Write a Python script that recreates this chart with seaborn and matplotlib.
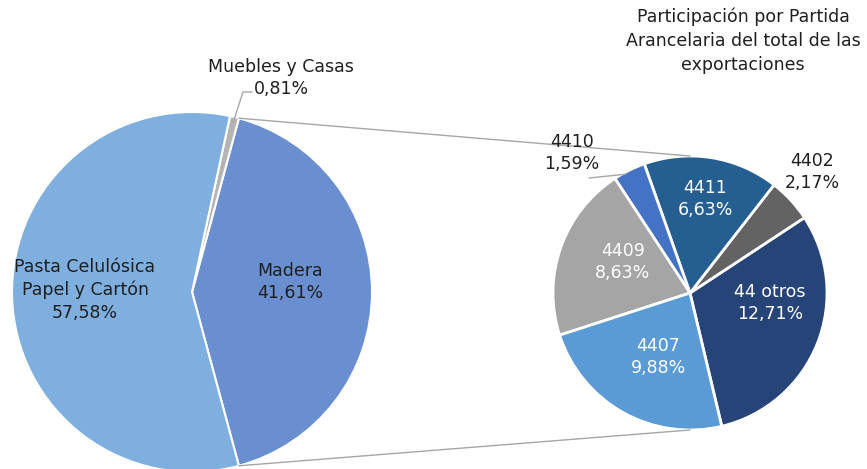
import numpy as np
import matplotlib.pyplot as plt
import seaborn as sns

# data
main_labels = ['Madera', 'Muebles y Casas', 'Pasta Celulósica\nPapel y Cartón']
main_values = [41.61, 0.81, 57.58]
main_colors = ['#6A8FD0', '#B4B4B4', '#7EAFDF']

sub_labels = ['44 otros', '4402', '4411', '4410', '4409', '4407']
sub_values = [12.71, 2.17, 6.63, 1.59, 8.63, 9.88]
sub_colors = ['#264478', '#636363', '#255E91', '#4472C4', '#A5A5A5', '#5B9BD5']

title = 'Participación por Partida\nArancelaria del total de las\nexportaciones'

sns.set_theme(style='white')
plt.rcParams['font.family'] = ['DejaVu Sans']

W, H = 867, 469
fig = plt.figure(figsize=(W / 100, H / 100), dpi=100)
ax = fig.add_axes([0, 0, 1, 1])


def P(x, y):
    # pixel (top-left origin) -> data coords
    return x, H - y


c1, r1 = P(192, 292), 180
c2, r2 = P(690, 293), 137

start1 = -main_values[0] / 100 * 360 / 2
w1, _ = ax.pie(main_values, colors=main_colors, startangle=start1, center=c1,
               radius=r1, counterclock=True, frame=True,
               wedgeprops=dict(edgecolor='white', linewidth=1.5))
w2, _ = ax.pie(sub_values, colors=sub_colors, startangle=-76.6, center=c2,
               radius=r2, counterclock=True, frame=True,
               wedgeprops=dict(edgecolor='white', linewidth=2))
ax.set_xlim(0, W)
ax.set_ylim(0, H)
ax.set_aspect('equal')
ax.axis('off')

# connector lines between the pies
line_col = '#A6A6A6'
for a1, a2 in [(w1[0].theta2, 90), (w1[0].theta1, -90)]:
    p1 = (c1[0] + r1 * np.cos(np.radians(a1)), c1[1] + r1 * np.sin(np.radians(a1)))
    p2 = (c2[0] + r2 * np.cos(np.radians(a2)), c2[1] + r2 * np.sin(np.radians(a2)))
    ax.plot([p1[0], p2[0]], [p1[1], p2[1]], color=line_col, lw=1)

fs = 12.5
ls = 1.35
txt = '#1F1F1F'

def pct(v):
    return f'{v:.2f}%'.replace('.', ',')

# main pie labels
ax.text(*P(290, 282), f'{main_labels[0]}\n{pct(main_values[0])}', ha='center', va='center',
        fontsize=fs, color=txt, linespacing=ls)
ax.text(*P(85, 290), f'{main_labels[2]}\n{pct(main_values[2])}', ha='center', va='center',
        fontsize=fs, color=txt, linespacing=ls)
ax.text(*P(281, 78), f'{main_labels[1]}\n{pct(main_values[1])}', ha='center', va='center',
        fontsize=fs, color=txt, linespacing=ls)
mid = np.radians((w1[1].theta1 + w1[1].theta2) / 2)
ax.plot([c1[0] + r1 * 0.97 * np.cos(mid), 243, 252],
        [c1[1] + r1 * 0.97 * np.sin(mid), H - 92, H - 92], color=line_col, lw=1)

# sub pie labels
inner_pos = {'44 otros': (770, 303), '4411': (705, 199), '4409': (623, 262), '4407': (658, 357)}
outer_pos = {'4410': (572, 153), '4402': (812, 172)}
for lab, v in zip(sub_labels, sub_values):
    s = f'{lab}\n{pct(v)}'
    if lab in inner_pos:
        ax.text(*P(*inner_pos[lab]), s, ha='center', va='center', fontsize=fs,
                color='white', linespacing=ls)
    else:
        ax.text(*P(*outer_pos[lab]), s, ha='center', va='center', fontsize=fs,
                color=txt, linespacing=ls)

mid = np.radians((w2[3].theta1 + w2[3].theta2) / 2)
ax.plot([c2[0] + r2 * np.cos(mid) - 4, 589], [c2[1] + r2 * np.sin(mid) - 4, H - 178],
        color=line_col, lw=1)

ax.text(*P(743, 7), title, ha='center', va='top', fontsize=fs, color=txt, linespacing=1.45)

fig.savefig('out.png', dpi=100)
